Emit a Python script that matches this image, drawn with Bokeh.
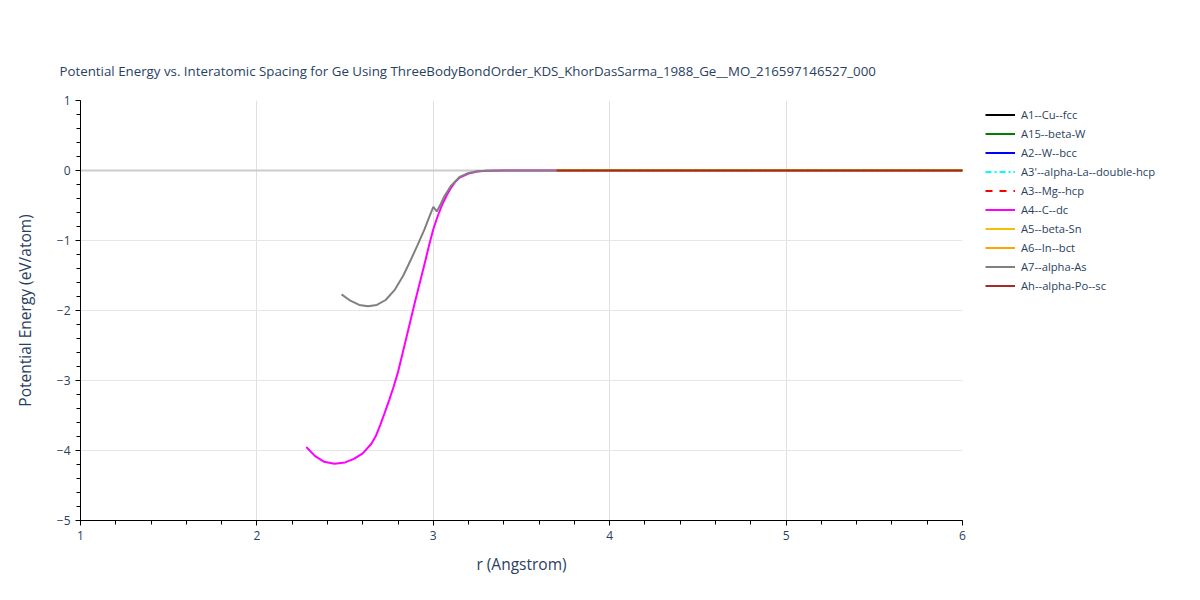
from bokeh.plotting import figure
from bokeh.models import (Legend, LegendItem, SingleIntervalTicker, CustomJSTickFormatter,
                          Span, Range1d)
from bokeh.embed import file_html
from bokeh.resources import INLINE

# ---- data ----
title_text = "Potential Energy vs. Interatomic Spacing for Ge Using ThreeBodyBondOrder_KDS_KhorDasSarma_1988_Ge__MO_216597146527_000"

series_names = ["A1--Cu--fcc", "A15--beta-W", "A2--W--bcc", "A3'--alpha-La--double-hcp",
                "A3--Mg--hcp", "A4--C--dc", "A5--beta-Sn", "A6--In--bct",
                "A7--alpha-As", "Ah--alpha-Po--sc"]

# series hidden under the flat tail (not distinguishable in the picture)
r_hidden = [3.70, 4.5, 5.5, 6.0]
e_hidden = [0.0, 0.0, 0.0, 0.0]

r_A4 = [2.28, 2.33, 2.38, 2.44, 2.50, 2.55, 2.60, 2.65, 2.675, 2.70, 2.725, 2.75, 2.775,
        2.80, 2.825, 2.85, 2.875, 2.90, 2.925, 2.95, 2.975, 3.00, 3.025, 3.05, 3.075,
        3.10, 3.125, 3.15, 3.20, 3.25, 3.30, 3.40, 3.50, 3.70]
e_A4 = [-3.95, -4.08, -4.16, -4.19, -4.17, -4.12, -4.04, -3.90, -3.79, -3.63, -3.46, -3.28, -3.09,
        -2.88, -2.62, -2.36, -2.10, -1.84, -1.59, -1.34, -1.08, -0.84, -0.65, -0.49, -0.36,
        -0.25, -0.16, -0.10, -0.045, -0.015, -0.005, -0.001, 0.0, 0.0]

r_A7 = [2.48, 2.53, 2.58, 2.63, 2.68, 2.73, 2.78, 2.83, 2.87, 2.91, 2.95, 2.97, 3.00, 3.02,
        3.04, 3.06, 3.08, 3.10, 3.15, 3.20, 3.25, 3.30, 3.40, 3.50, 3.70]
e_A7 = [-1.77, -1.86, -1.92, -1.94, -1.92, -1.85, -1.71, -1.50, -1.29, -1.07, -0.84, -0.71, -0.52, -0.585,
        -0.49, -0.38, -0.30, -0.22, -0.09, -0.035, -0.012, -0.005, -0.001, 0.0, 0.0]

r_Ah = [3.70, 4.0, 4.5, 5.0, 5.5, 6.0]
e_Ah = [0.0, 0.0, 0.0, 0.0, 0.0, 0.0]

x_range = (1, 6)
y_range = (-5, 1)

# ---- figure ----
FONT = "Open Sans"
TXT = "#2a3f5f"

p = figure(width=1192, height=592, output_backend="svg", toolbar_location=None,
           x_range=Range1d(*x_range), y_range=Range1d(*y_range),
           frame_width=882, frame_height=420,
           min_border_left=80, min_border_right=230, min_border_top=100, min_border_bottom=72)
p.outline_line_color = None
p.background_fill_color = "white"
p.border_fill_color = "white"

p.title.text = title_text
p.title.text_font = FONT
p.title.text_font_size = "13.3px"
p.title.text_font_style = "normal"
p.title.text_color = TXT
p.title.offset = -21
p.title.standoff = 42

for ax, label in ((p.xaxis[0], "r (Angstrom)"), (p.yaxis[0], "Potential Energy (eV/atom)")):
    ax.ticker = SingleIntervalTicker(interval=1, num_minor_ticks=5)
    ax.axis_label = label
    ax.axis_label_text_font = FONT
    ax.axis_label_text_font_size = "15.5px"
    ax.axis_label_text_font_style = "normal"
    ax.axis_label_text_color = TXT
    ax.major_label_text_font = FONT
    ax.major_label_text_font_size = "12px"
    ax.major_label_text_color = TXT
    ax.axis_line_color = "black"
    ax.major_tick_line_color = "black"
    ax.minor_tick_line_color = "black"
    ax.major_tick_in = 0
    ax.major_tick_out = 5
    ax.minor_tick_in = 0
    ax.minor_tick_out = 4
    ax.formatter = CustomJSTickFormatter(code="return tick.toString().replace('-', '\u2212');")

p.xaxis[0].axis_label_standoff = 10
p.yaxis[0].axis_label_standoff = 18

p.xgrid.grid_line_color = "#e0e0e0"
p.ygrid.grid_line_color = "#e6e6e6"
p.ygrid.grid_line_width = 1

p.add_layout(Span(location=0, dimension="width", line_color="#cccccc", line_width=2,
                  level="underlay"))

colors = ["black", "green", "blue", "cyan", "red", "magenta", "#f5c000", "orange", "gray", "brown"]
dashes = ["solid", "solid", "solid", "6 3 2 3", "7 7", "solid", "solid", "solid", "solid", "solid"]
data = [(r_hidden, e_hidden)] * 5 + [(r_A4, e_A4), (r_hidden, e_hidden), (r_hidden, e_hidden),
                                     (r_A7, e_A7), (r_Ah, e_Ah)]

items = []
for name, col, dash, (rx, ey) in zip(series_names, colors, dashes, data):
    r = p.line(rx, ey, line_color=col, line_width=2, line_dash=dash)
    items.append(LegendItem(label=name, renderers=[r]))

legend = Legend(items=items, location=(23, 225))
legend.label_text_font = FONT
legend.label_text_font_size = "11.2px"
legend.label_text_color = TXT
legend.glyph_width = 30
legend.glyph_height = 19
legend.label_height = 19
legend.spacing = 0
legend.padding = 0
legend.margin = 0
legend.border_line_color = None
legend.background_fill_alpha = 0
legend.label_standoff = 6
p.add_layout(legend, "right")

open("out.html", "w").write(file_html(p, INLINE))
